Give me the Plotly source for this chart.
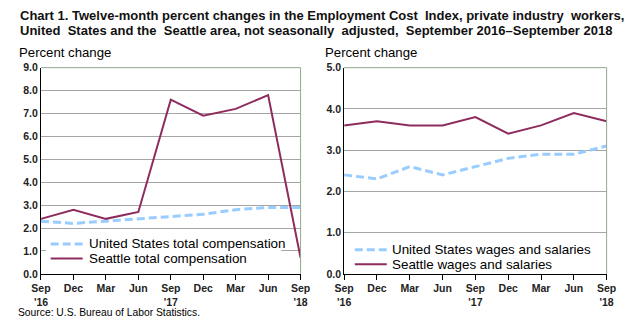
import plotly.graph_objects as go

periods = ["Sep<br>'16", "Dec", "Mar", "Jun", "Sep<br>'17", "Dec", "Mar", "Jun", "Sep<br>'18"]

us_total = [2.3, 2.2, 2.3, 2.4, 2.5, 2.6, 2.8, 2.9, 2.9]
seattle_total = [2.4, 2.8, 2.4, 2.7, 7.6, 6.9, 7.2, 7.8, 0.7]
us_wages = [2.4, 2.3, 2.6, 2.4, 2.6, 2.8, 2.9, 2.9, 3.1]
seattle_wages = [3.6, 3.7, 3.6, 3.6, 3.8, 3.4, 3.6, 3.9, 3.7]

W, H = 636, 328
FONT = "Liberation Sans, Arial, sans-serif"
US_COLOR = "#99ccff"
SEA_COLOR = "#8e2c5e"
GRID = "#a5a5a5"
FRAME = "#94a88e"

US_LINE = dict(color=US_COLOR, width=3, dash="8px,4px")
SEA_LINE = dict(color=SEA_COLOR, width=2)

xs = list(range(len(periods)))

fig = go.Figure()
fig.add_trace(go.Scatter(x=xs, y=us_total, mode="lines", name="United States total compensation",
                         line=US_LINE, xaxis="x", yaxis="y"))
fig.add_trace(go.Scatter(x=xs, y=seattle_total, mode="lines", name="Seattle total compensation",
                         line=SEA_LINE, xaxis="x", yaxis="y"))
fig.add_trace(go.Scatter(x=xs, y=us_wages, mode="lines", name="United States wages and salaries",
                         line=US_LINE, xaxis="x2", yaxis="y2"))
fig.add_trace(go.Scatter(x=xs, y=seattle_wages, mode="lines", name="Seattle wages and salaries",
                         line=SEA_LINE, xaxis="x2", yaxis="y2"))


def px(x):
    return x / W


def py(y):
    return 1 - y / H


y0, y1 = py(278), py(64)
dom_left = [px(32), px(300)]
dom_right = [px(345), px(616)]

TICKFONT = dict(size=10.5, color="#222", family=FONT, weight="bold")
xax = dict(range=[0, 8], tickvals=xs, ticktext=periods, showgrid=False, zeroline=False,
           showline=True, linecolor="black", linewidth=1, ticks="outside", ticklen=5,
           tickcolor="black", tickfont=TICKFONT, fixedrange=True)
yax = dict(showgrid=True, gridcolor=GRID, gridwidth=1, zeroline=False, showline=True,
           linecolor="black", linewidth=1, ticks="", tickformat=".1f", dtick=1,
           tickfont=TICKFONT, fixedrange=True, domain=[y0, y1])

fig.update_layout(
    width=W, height=H, margin=dict(l=0, r=0, t=0, b=0),
    paper_bgcolor="white", plot_bgcolor="white",
    font=dict(family=FONT, size=13, color="black"),
    xaxis=dict(xax, domain=dom_left, anchor="y"),
    yaxis=dict(yax, range=[0, 9], anchor="x"),
    xaxis2=dict(xax, domain=dom_right, anchor="y2"),
    yaxis2=dict(yax, range=[0, 5], anchor="x2"),
    showlegend=False,
)

# top and right frame of each plot area
for xr, yr in (("x", "y"), ("x2", "y2")):
    fig.add_shape(type="line", xref=f"{xr} domain", yref=f"{yr} domain",
                  x0=0, x1=1, y0=1, y1=1, line=dict(color=FRAME, width=1))
    fig.add_shape(type="line", xref=f"{xr} domain", yref=f"{yr} domain",
                  x0=1, x1=1, y0=0, y1=1, line=dict(color=FRAME, width=1))

# legend boxes inside each panel: white backing, line keys and labels
legends = [
    dict(box=(37, 239, 280, 270), x0=42, x1=75, tx=79,
         items=[(247, US_LINE, "United States total compensation"),
                (262, SEA_LINE, "Seattle total compensation")]),
    dict(box=(350, 245, 600, 276), x0=356, x1=389, tx=392,
         items=[(253, US_LINE, "United States wages and salaries"),
                (268, SEA_LINE, "Seattle wages and salaries")]),
]
for lg in legends:
    bx0, by0, bx1, by1 = lg["box"]
    fig.add_shape(type="rect", xref="paper", yref="paper", x0=px(bx0), x1=px(bx1),
                  y0=py(by1), y1=py(by0), fillcolor="white", line=dict(width=0), layer="above")
    for yc, ln, label in lg["items"]:
        fig.add_shape(type="line", xref="paper", yref="paper", x0=px(lg["x0"]), x1=px(lg["x1"]),
                      y0=py(yc), y1=py(yc), line=ln, layer="above")
        fig.add_annotation(text=label, xref="paper", yref="paper", x=px(lg["tx"]), y=py(yc),
                           xanchor="left", yanchor="middle", showarrow=False,
                           font=dict(size=13.4, family=FONT, color="black"))

TITLE_FONT = dict(size=13, family=FONT, color="#111", weight="bold")
fig.add_annotation(text="Chart 1. Twelve-month percent changes in the Employment Cost  Index, private industry  workers,",
                   xref="paper", yref="paper", x=px(8), y=py(10), xanchor="left", yanchor="middle",
                   showarrow=False, font=TITLE_FONT)
fig.add_annotation(text="United  States and the  Seattle area, not seasonally  adjusted,  September 2016\u2013September 2018",
                   xref="paper", yref="paper", x=px(8), y=py(25), xanchor="left", yanchor="middle",
                   showarrow=False, font=TITLE_FONT)
fig.add_annotation(text="Percent change", xref="paper", yref="paper", x=px(7), y=py(48),
                   xanchor="left", yanchor="middle", showarrow=False, font=dict(size=13.2, family=FONT))
fig.add_annotation(text="Percent change", xref="paper", yref="paper", x=px(323), y=py(48),
                   xanchor="left", yanchor="middle", showarrow=False, font=dict(size=13.2, family=FONT))
fig.add_annotation(text="Source: U.S. Bureau of Labor Statistics.", xref="paper", yref="paper",
                   x=px(6), y=py(318.5), xanchor="left", yanchor="middle", showarrow=False,
                   font=dict(size=10.3, family=FONT))

fig.write_html("out.html")
